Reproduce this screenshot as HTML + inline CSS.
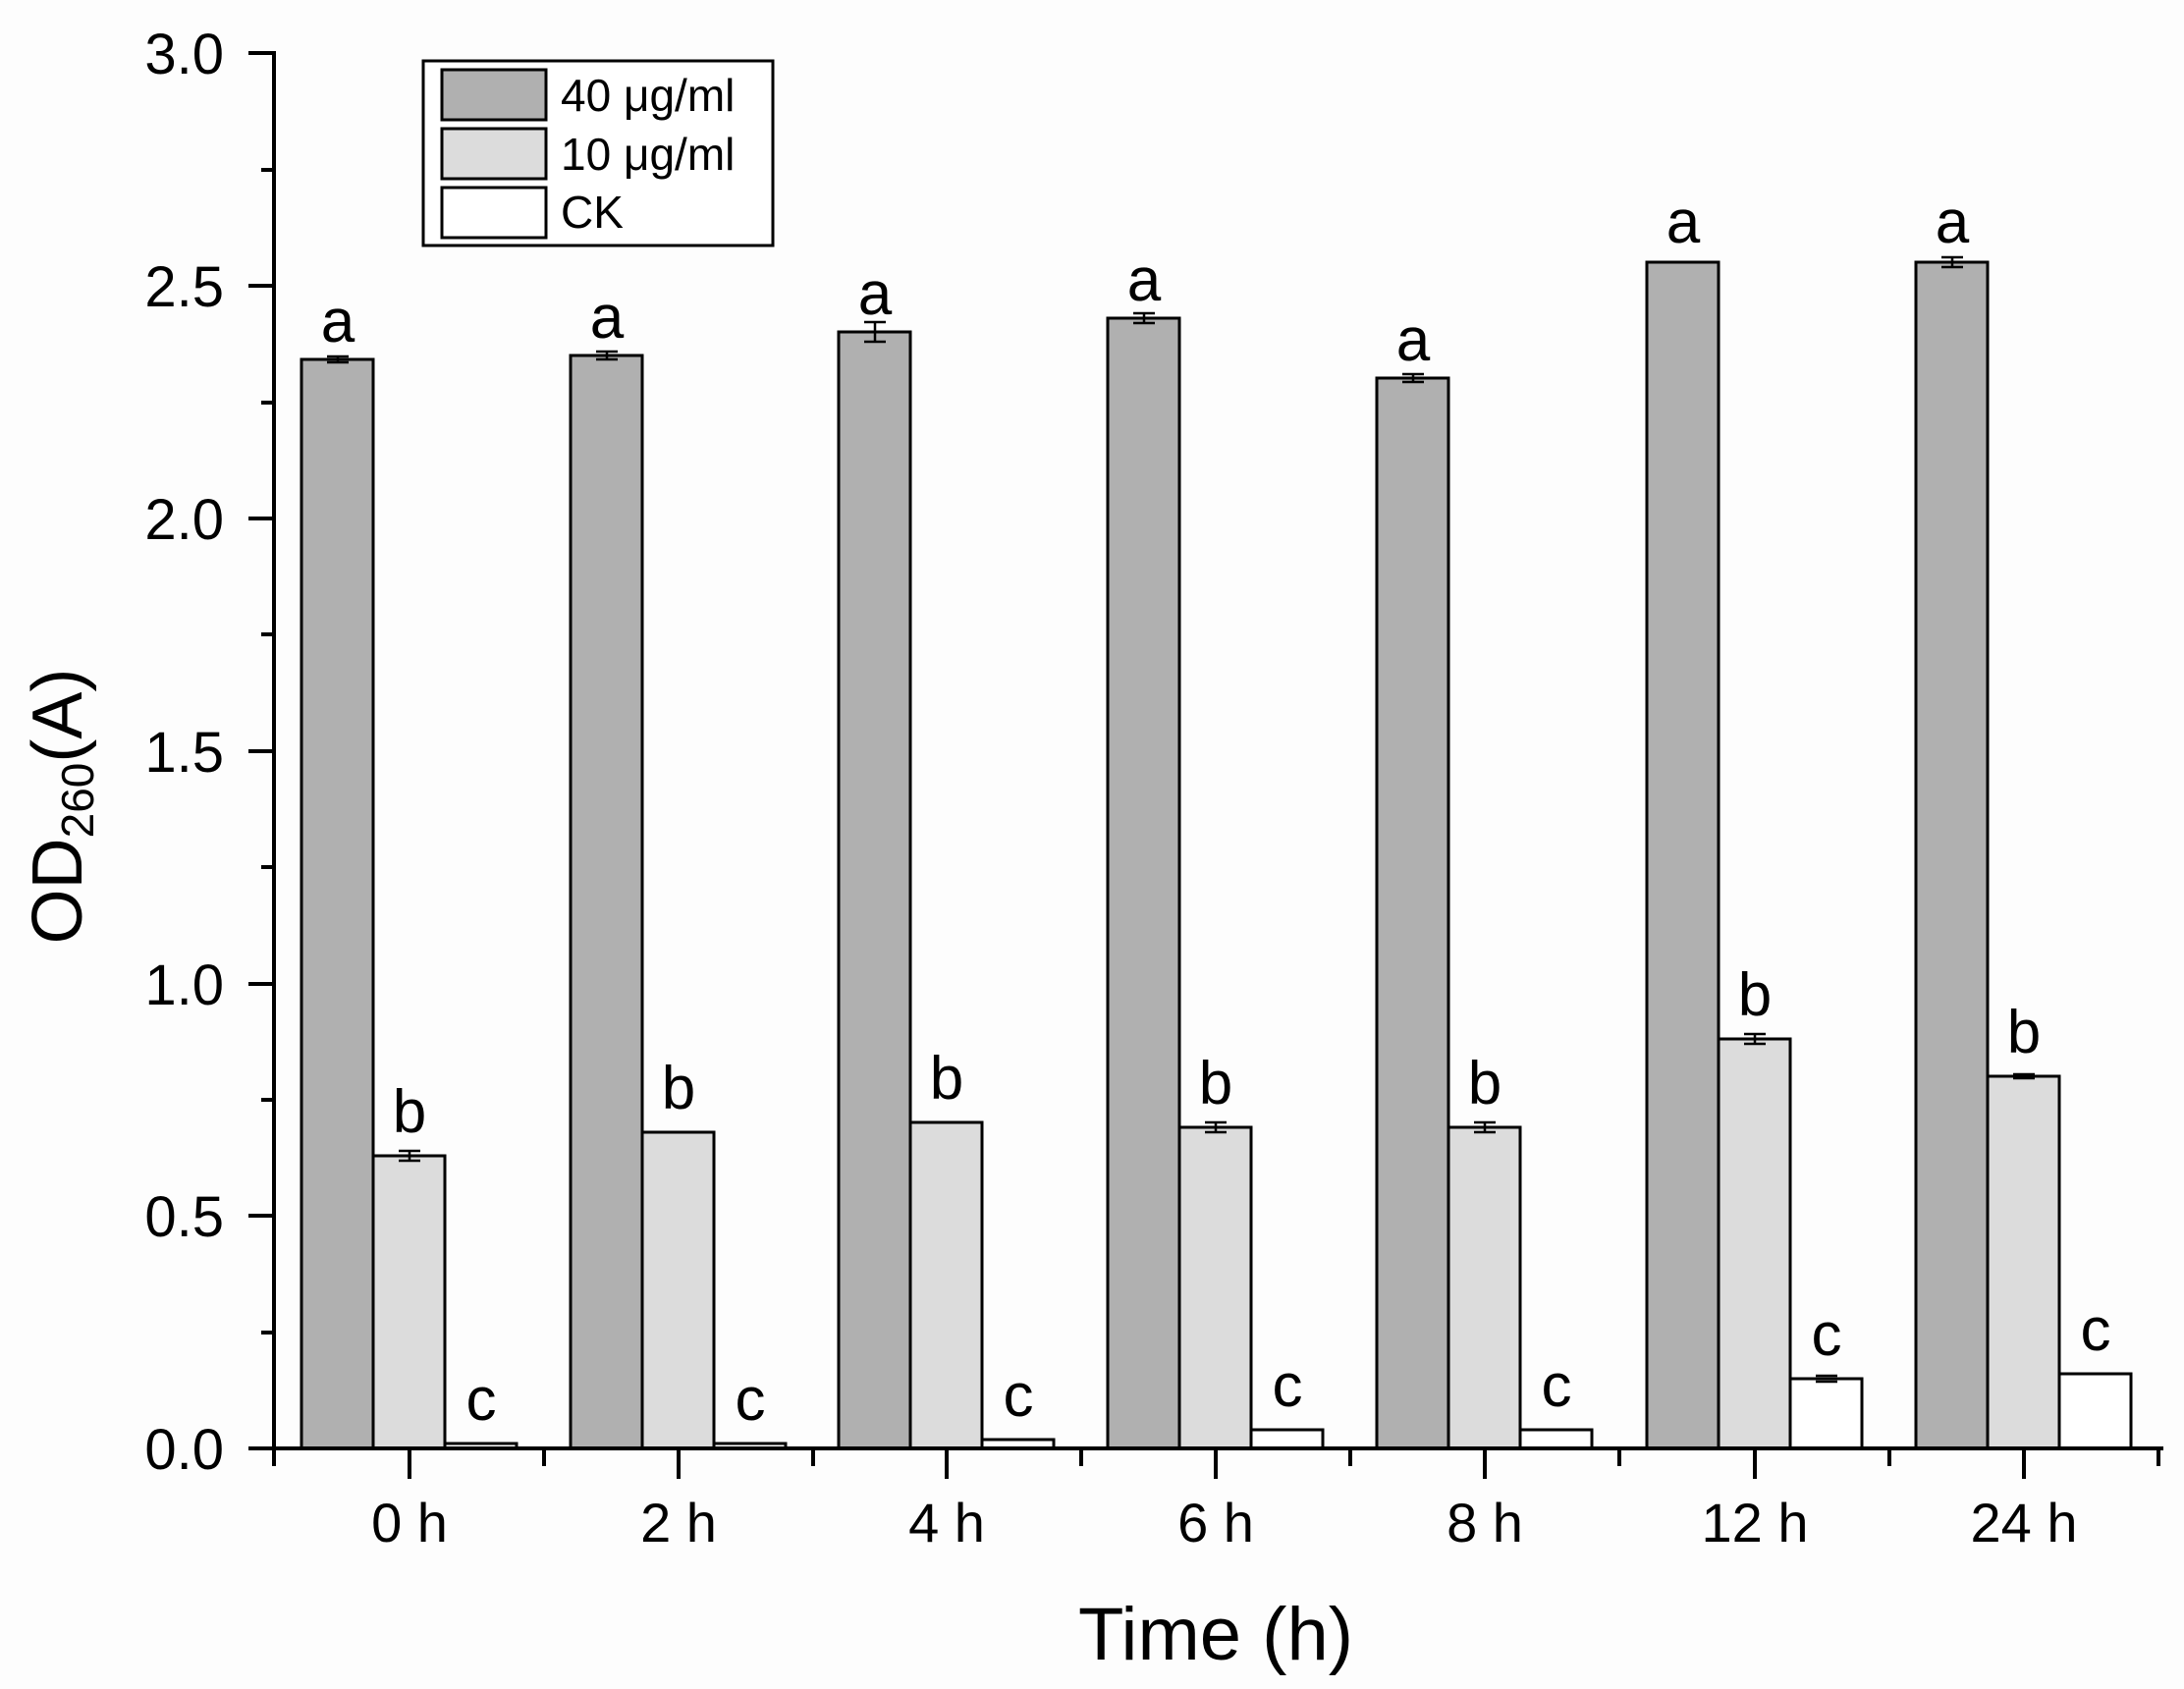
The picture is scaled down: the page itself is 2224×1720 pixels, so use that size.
<!DOCTYPE html>
<html><head><meta charset="utf-8"><style>
html,body{margin:0;padding:0;background:#fff;}
svg{display:block;}
text{font-family:"Liberation Sans",Arial,sans-serif;fill:#000;}
</style></head><body>
<svg width="2224" height="1720" viewBox="0 0 2224 1720" xmlns="http://www.w3.org/2000/svg">
<rect width="2224" height="1720" fill="#fdfdfd"/>
<g id="bars" stroke="#000" stroke-width="3"></g>
<!-- bars generated statically below -->
<g stroke="#000" stroke-width="3">
<!-- groups: centers 417,691,964,1238,1512,1787,2061; w=73; y0=1475; k=473.7 -->
<!-- 0h -->
<rect x="307" y="366" width="73" height="1109" fill="#b0b0b0"/>
<rect x="380" y="1177" width="73" height="298" fill="#dcdcdc"/>
<rect x="453" y="1470" width="73" height="5" fill="#fff"/>
<!-- 2h -->
<rect x="581" y="362" width="73" height="1113" fill="#b0b0b0"/>
<rect x="654" y="1153" width="73" height="322" fill="#dcdcdc"/>
<rect x="727" y="1470" width="73" height="5" fill="#fff"/>
<!-- 4h -->
<rect x="854" y="338" width="73" height="1137" fill="#b0b0b0"/>
<rect x="927" y="1143" width="73" height="332" fill="#dcdcdc"/>
<rect x="1000" y="1466" width="73" height="9" fill="#fff"/>
<!-- 6h -->
<rect x="1128" y="324" width="73" height="1151" fill="#b0b0b0"/>
<rect x="1201" y="1148" width="73" height="327" fill="#dcdcdc"/>
<rect x="1274" y="1456" width="73" height="19" fill="#fff"/>
<!-- 8h -->
<rect x="1402" y="385" width="73" height="1090" fill="#b0b0b0"/>
<rect x="1475" y="1148" width="73" height="327" fill="#dcdcdc"/>
<rect x="1548" y="1456" width="73" height="19" fill="#fff"/>
<!-- 12h -->
<rect x="1677" y="267" width="73" height="1208" fill="#b0b0b0"/>
<rect x="1750" y="1058" width="73" height="417" fill="#dcdcdc"/>
<rect x="1823" y="1404" width="73" height="71" fill="#fff"/>
<!-- 24h -->
<rect x="1951" y="267" width="73" height="1208" fill="#b0b0b0"/>
<rect x="2024" y="1096" width="73" height="379" fill="#dcdcdc"/>
<rect x="2097" y="1399" width="73" height="76" fill="#fff"/>
</g>
<!-- error bars -->
<g stroke="#000" stroke-width="2.5" fill="none">
<path d="M333 363h22M333 369h22M344 363v6"/>
<path d="M607 358h22M607 366h22M618 358v8"/>
<path d="M880 328h22M880 348h22M891 328v20"/>
<path d="M1154 319h22M1154 329h22M1165 319v10"/>
<path d="M1428 381h22M1428 389h22M1439 381v8"/>
<path d="M1977 262h22M1977 272h22M1988 262v10"/>
<path d="M406 1172h22M406 1182h22M417 1172v10"/>
<path d="M1227 1143h22M1227 1153h22M1238 1143v10"/>
<path d="M1501 1143h22M1501 1153h22M1512 1143v10"/>
<path d="M1776 1053h22M1776 1063h22M1787 1053v10"/>
<path d="M2050 1094h22M2050 1098h22"/>
<path d="M1849 1401h22M1849 1407h22"/>
</g>
<!-- letters -->
<g font-size="62" text-anchor="middle">
<text x="344" y="348">a</text><text x="618" y="344">a</text><text x="891" y="320">a</text>
<text x="1165" y="306">a</text><text x="1439" y="367">a</text><text x="1714" y="247">a</text><text x="1988" y="247">a</text>
<text x="417" y="1153">b</text><text x="691" y="1129">b</text><text x="964" y="1119">b</text>
<text x="1238" y="1124">b</text><text x="1512" y="1124">b</text><text x="1787" y="1034">b</text><text x="2061" y="1072">b</text>
<text x="490" y="1446">c</text><text x="764" y="1446">c</text><text x="1037" y="1442">c</text>
<text x="1311" y="1432">c</text><text x="1585" y="1432">c</text><text x="1860" y="1380">c</text><text x="2134" y="1375">c</text>
</g>
<!-- axes -->
<g stroke="#000" stroke-width="4" fill="none">
<path d="M279 52V1477M277 1475H2203"/>
<path d="M253 54h26M253 291h26M253 528h26M253 765h26M253 1002h26M253 1238h26M253 1475h26"/>
<path d="M266 173h13M266 410h13M266 646h13M266 883h13M266 1120h13M266 1357h13"/>
<path d="M417 1475v31M691 1475v31M964 1475v31M1238 1475v31M1512 1475v31M1787 1475v31M2061 1475v31"/>
<path d="M279 1475v18M554 1475v18M828 1475v18M1101 1475v18M1375 1475v18M1649 1475v18M1924 1475v18M2198 1475v18"/>
</g>
<g font-size="58" text-anchor="end">
<text x="228" y="75">3.0</text><text x="228" y="312">2.5</text><text x="228" y="549">2.0</text>
<text x="228" y="786">1.5</text><text x="228" y="1023">1.0</text><text x="228" y="1259">0.5</text><text x="228" y="1496">0.0</text>
</g>
<g font-size="56" text-anchor="middle">
<text x="417" y="1570">0 h</text><text x="691" y="1570">2 h</text><text x="964" y="1570">4 h</text>
<text x="1238" y="1570">6 h</text><text x="1512" y="1570">8 h</text><text x="1787" y="1570">12 h</text><text x="2061" y="1570">24 h</text>
</g>
<text x="1238" y="1690" font-size="76" text-anchor="middle">Time (h)</text>
<text transform="translate(83,821) rotate(-90)" font-size="72" text-anchor="middle">OD<tspan font-size="46" dy="12">260</tspan><tspan dy="-12">(A)</tspan></text>
<!-- legend -->
<rect x="431" y="62" width="356" height="188" fill="#fff" stroke="#000" stroke-width="3"/>
<rect x="450" y="71" width="106" height="51" fill="#b0b0b0" stroke="#000" stroke-width="3"/>
<rect x="450" y="131" width="106" height="51" fill="#dcdcdc" stroke="#000" stroke-width="3"/>
<rect x="450" y="191" width="106" height="51" fill="#fff" stroke="#000" stroke-width="3"/>
<g font-size="46"><text x="571" y="113">40 μg/ml</text><text x="571" y="173">10 μg/ml</text><text x="571" y="232">CK</text></g>
</svg>
</body></html>
